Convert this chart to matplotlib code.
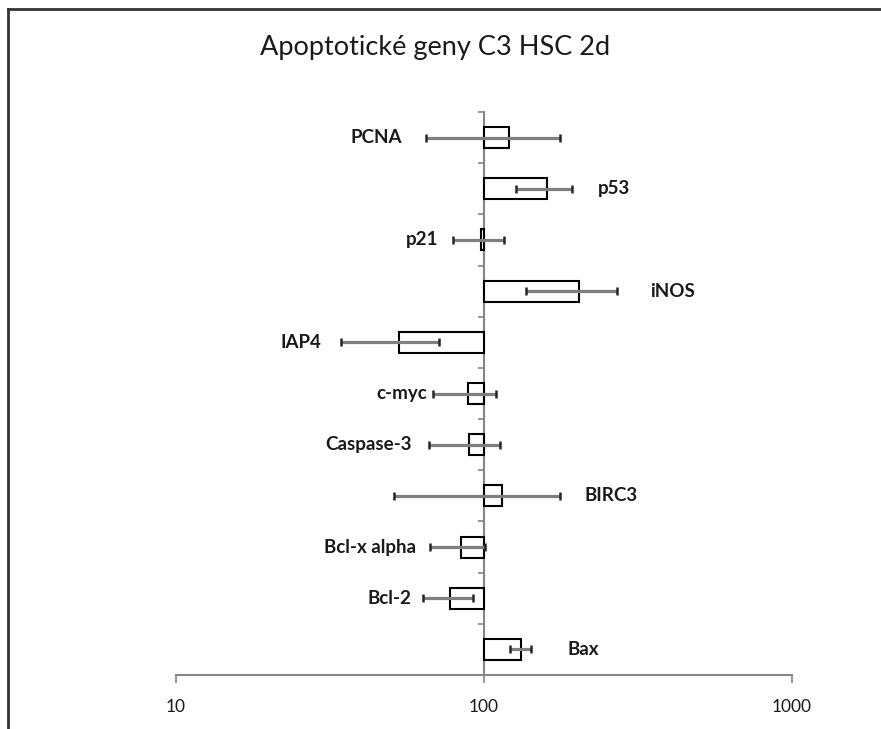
import numpy as np
import matplotlib.pyplot as plt
from matplotlib.lines import Line2D

plt.rcParams['font.family'] = ['Lato', 'DejaVu Sans']

# data (relative expression, 100 = control)
geny = ['PCNA', 'p53', 'p21', 'iNOS', 'IAP4', 'c-myc', 'Caspase-3', 'BIRC3',
        'Bcl-x alpha', 'Bcl-2', 'Bax']
hodnoty = [121, 160, 98, 204, 53, 89, 89.5, 114, 84, 77.5, 132]
chyby = [56, 33, 18.5, 67, 18.7, 20.5, 23, 63, 17, 14.3, 10.5]

# where the label sits (L = left of the error bar, R = right) and gap in px
strana = ['L', 'R', 'L', 'R', 'L', 'L', 'L', 'R', 'L', 'L', 'R']
mezera_px = [24, 26, 15, 33, 19, 6, 18, 24, 14, 11, 36]

zaklad = 100
n = len(geny)
y = np.arange(n)

fig = plt.figure(figsize=(8.81, 7.29), dpi=100)
ax = fig.add_axes([176 / 881, 54 / 729, 616 / 881, 563 / 729])

sirky = np.array(hodnoty) - zaklad
ax.barh(y, sirky, left=zaklad, height=0.41, color='white', edgecolor='black',
        linewidth=1.5, zorder=2)

eb = ax.errorbar(hodnoty, y, xerr=chyby, fmt='none', ecolor='#7f7f7f',
                 elinewidth=2.3, capsize=2.6, capthick=1.8, zorder=3)
for cap in eb[1]:
    cap.set_markeredgecolor('#262626')
    cap.set_zorder(4)

for i in range(n):
    if strana[i] == 'L':
        xk = hodnoty[i] - chyby[i]
        off = -mezera_px[i] * 0.72
        ha = 'right'
    else:
        xk = hodnoty[i] + chyby[i]
        off = mezera_px[i] * 0.72
        ha = 'left'
    ax.annotate(geny[i], (xk, y[i]), xytext=(off, 0), textcoords='offset points',
                ha=ha, va='center', fontsize=13.5, fontweight='bold',
                color='#1a1a1a')

ax.set_xscale('log')
ax.set_xlim(10, 1000)
ax.set_ylim(n - 0.5, -0.5)

ax.set_xticks([10, 100, 1000])
ax.set_xticklabels(['10', '100', '1000'])
ax.xaxis.set_minor_locator(plt.NullLocator())
ax.tick_params(axis='x', direction='out', length=6, width=1.2, color='#868686',
               labelsize=12.5, pad=11, labelcolor='#1a1a1a')

ax.set_yticks([])
ax.set_yticks(np.arange(n + 1) - 0.5, minor=True)
ax.tick_params(axis='y', which='minor', direction='out', length=4, width=1.2,
               color='#868686')

ax.spines['left'].set_position(('data', zaklad))
ax.spines['left'].set_color('#868686')
ax.spines['left'].set_linewidth(1.5)
ax.spines['bottom'].set_color('#868686')
ax.spines['bottom'].set_linewidth(1.5)
ax.spines['top'].set_visible(False)
ax.spines['right'].set_visible(False)
ax.spines['left'].set_zorder(1)

fig.text(435 / 881, 1 - 47 / 729, 'Apoptotické geny C3 HSC 2d', ha='center',
         va='center', fontsize=19.5, color='#1a1a1a')

# frame of the chart area (only top and left are visible in the crop)
fig.add_artist(Line2D([8 / 881, 1.01], [1 - 9 / 729, 1 - 9 / 729], color='#333333',
                      linewidth=2, transform=fig.transFigure))
fig.add_artist(Line2D([8 / 881, 8 / 881], [-0.01, 1 - 9 / 729], color='#333333',
                      linewidth=2, transform=fig.transFigure))

fig.savefig('out.png', dpi=100)
